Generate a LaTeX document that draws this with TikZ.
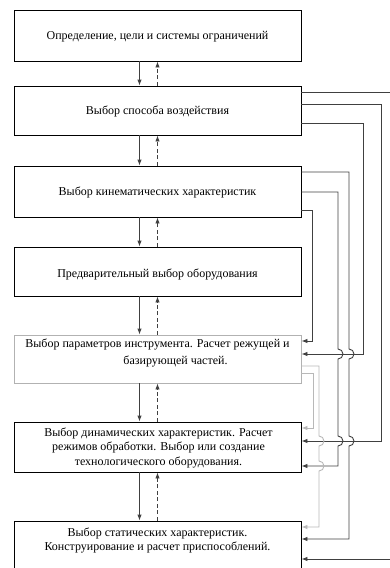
\documentclass[tikz,border=0pt]{standalone}
\usepackage{fontspec}
\setmainfont{Liberation Serif}
\usetikzlibrary{shapes,arrows,arrows.meta,calc}

\begin{document}
\begin{tikzpicture}
  [
    x=1pt, y=-1pt,
    >={Latex[length=6pt,width=4.5pt]},
    box/.style  = {draw=black, line width=0.9pt, minimum width=287pt, inner sep=0pt},
    gbox/.style = {box, draw=black!30},
    txt/.style  = {align=center, font=\fontsize{12}{14.5}\selectfont, inner sep=0pt},
    link/.style = {draw=black!75, line width=0.9pt},
    glink/.style= {draw=black!28, line width=0.9pt},
  ]
\useasboundingbox (0,0) rectangle (390,568);

%Columns of the feedback lines on the right
\def \xa{391}
\def \xb{381}
\def \xc{363}
\def \xd{349}
\def \xe{338}
\def \xf{312}
\def \xg{319}
\def \xh{313}

%Frames of the steps
\node[box, minimum height=51pt] (b1) at (157.5,35.5) {};
\node[box, minimum height=49pt] (b2) at (157.5,110.5) {};
\node[box, minimum height=51pt] (b3) at (157.5,191.5) {};
\node[box, minimum height=49pt] (b4) at (157.5,271.5) {};
\node[gbox, minimum height=48pt] (b5) at (157.5,359) {};
\node[box, minimum height=50pt] (b6) at (157.5,447) {};
\node[box, minimum height=70pt] (b7) at (157.5,556) {};

%Texts of the steps
\node[txt] (t1) at (157.5,37) {Определение, цели и системы ограничений};
\node[txt] (t2) at (157.5,111) {Выбор способа воздействия};
\node[txt] (t3) at (157.5,192) {Выбор кинематических характеристик};
\node[txt] (t4) at (157.5,274) {Предварительный выбор оборудования};
\node[txt] (t5) at (157.5,353) {Выбор параметров инструмента. Расчет режущей и\\[2pt]
  \hspace*{36pt}базирующей частей.};
\node[txt] (t6) at (158.5,447.5) {Выбор динамических характеристик. Расчет\\
  режимов обработки. Выбор или создание\\ технологического оборудования.};
\node[txt] (t7) at (157.5,540.5) {Выбор статических характеристик.\\
  Конструирование и расчет приспособлений.};

%Forward and backward arrows between the steps
\foreach \a/\b in {b1/b2,b2/b3,b3/b4,b4/b5,b5/b6,b6/b7}
{
\draw[link,->] ([xshift=-18pt]\a.south) -- ([xshift=-18pt]\b.north);
\draw[link,->,dash pattern=on 4pt off 2.5pt] (\b.north) -- (\a.south);
}

%Feedback lines, each vertical hops over the lines it crosses
\draw[link,->] (b2.east |- 0,92) -- (\xa,92) -- (\xa,559) -- (b7.east |- 0,559);
\draw[link,->] (b2.east |- 0,104) -- (\xb,104) -- (\xb,441) -- (b6.east |- 0,441);
\draw[link,->] (b2.east |- 0,123) -- (\xc,123) -- (\xc,354) -- (b5.east |- 0,354);

\draw[link,->] (b3.east |- 0,172) -- (\xd,172) -- (\xd,349)
  arc[start angle=-90, end angle=90, radius=5] -- (\xd,436)
  arc[start angle=-90, end angle=90, radius=5] -- (\xd,539) -- (b7.east |- 0,539);
\draw[link,->] (b3.east |- 0,192) -- (\xe,192) -- (\xe,349)
  arc[start angle=-90, end angle=90, radius=5] -- (\xe,436)
  arc[start angle=-90, end angle=90, radius=5] -- (\xe,466) -- (b6.east |- 0,466);
\draw[link,->] (b3.east |- 0,210) -- (\xf,210) -- (\xf,341) -- (b5.east |- 0,341);

\draw[glink,->] (b5.east |- 0,366) -- (\xg,366) -- (\xg,436)
  arc[start angle=-90, end angle=90, radius=5] -- (\xg,461)
  arc[start angle=-90, end angle=90, radius=5] -- (\xg,527) -- (b7.east |- 0,527);
\draw[glink,->] (b5.east |- 0,373) -- (\xh,373) -- (\xh,428) -- (b6.east |- 0,428);
\end{tikzpicture}
\end{document}
